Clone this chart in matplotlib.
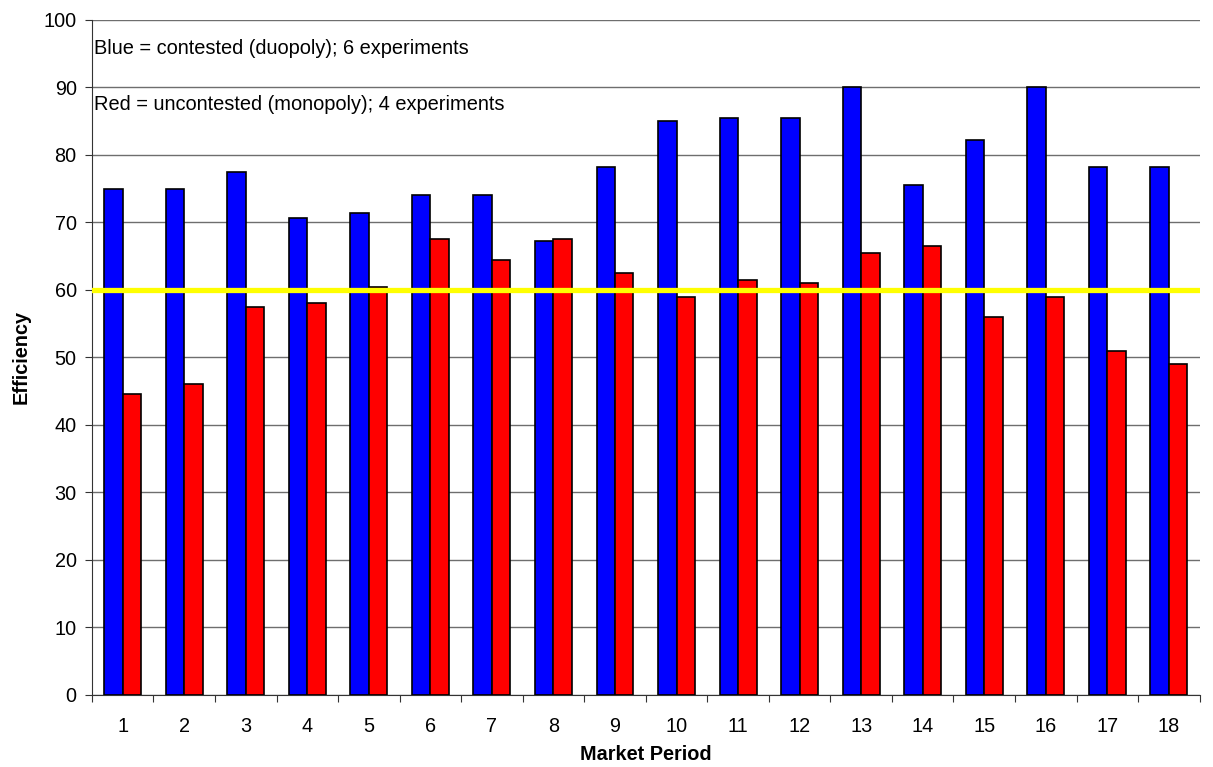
import matplotlib.pyplot as plt
import numpy as np

plt.rcParams['font.family'] = ['Liberation Sans', 'DejaVu Sans']

periods = [str(i) for i in range(1, 19)]
contested = [75, 75, 77.5, 70.6, 71.4, 74, 74, 67.2, 78.2, 85, 85.5, 85.5, 90, 75.6, 82.2, 90, 78.2, 78.2]
uncontested = [44.6, 46, 57.5, 58, 60.5, 67.5, 64.5, 67.5, 62.5, 59, 61.5, 61, 65.5, 66.5, 56, 59, 51, 49]
benchmark = 60

fig = plt.figure(figsize=(12.13, 7.67), dpi=100)
ax = fig.add_axes([0.0758, 0.0939, 0.9132, 0.8801])

x = np.arange(len(periods))
w = 0.3
ax.bar(x - w / 2, contested, w, color='#0000FF', edgecolor='black', linewidth=1.2, zorder=3)
ax.bar(x + w / 2, uncontested, w, color='#FF0000', edgecolor='black', linewidth=1.2, zorder=3)
ax.axhline(benchmark, color='#FFFF00', linewidth=3.8, zorder=4)

ax.set_xlim(-0.5, len(periods) - 0.5)
ax.set_ylim(0, 100)
ax.set_yticks(range(0, 101, 10))
ax.yaxis.grid(True, color='#6e6e6e', linewidth=1.0, zorder=0)
ax.set_axisbelow(True)

# ticks between categories, labels centred under each pair
ax.set_xticks(np.arange(-0.5, len(periods), 1))
ax.set_xticklabels([])
ax.set_xticks(x, minor=True)
ax.set_xticklabels(periods, minor=True)
ax.tick_params(axis='x', which='major', length=5, direction='out', color='#333333')
ax.tick_params(axis='x', which='minor', length=0, pad=16, labelsize=14.3)
ax.tick_params(axis='y', length=5, direction='out', labelsize=14.3, color='#333333', pad=6)

for s in ['top', 'right']:
    ax.spines[s].set_visible(False)
for s in ['left', 'bottom']:
    ax.spines[s].set_color('#333333')

ax.set_xlabel('Market Period', fontweight='bold', fontsize=14.3, labelpad=6)
ax.set_ylabel('Efficiency', fontweight='bold', fontsize=14.3, labelpad=9)

ax.text(0.002, 0.958, 'Blue = contested (duopoly); 6 experiments', transform=ax.transAxes,
        fontsize=14.4, va='center', ha='left')
ax.text(0.002, 0.874, 'Red = uncontested (monopoly); 4 experiments', transform=ax.transAxes,
        fontsize=14.4, va='center', ha='left')

fig.savefig('out.png', dpi=100)
